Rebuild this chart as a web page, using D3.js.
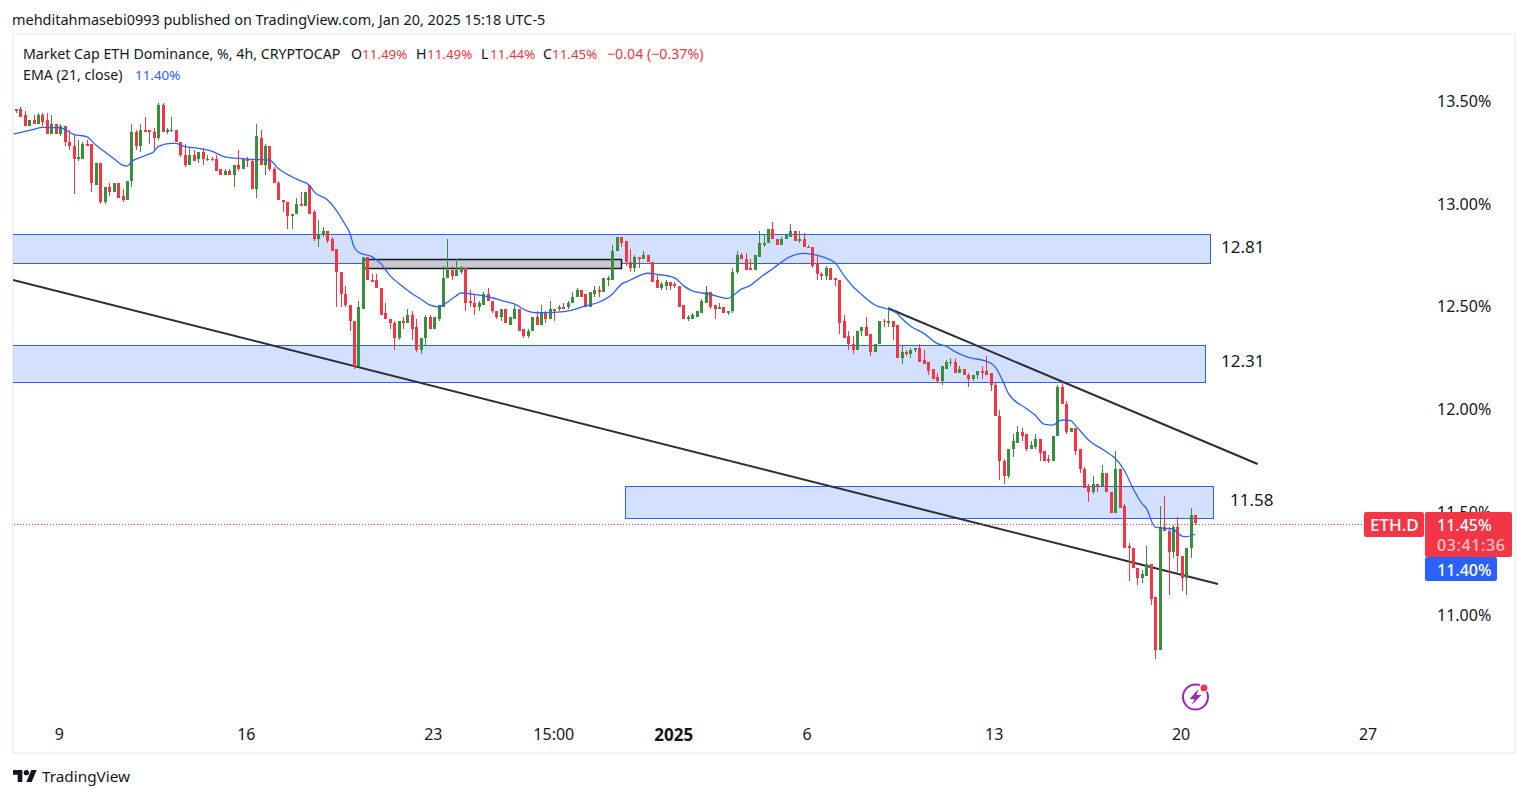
<!DOCTYPE html>
<html>
<head>
<meta charset="utf-8">
<script src="https://cdn.jsdelivr.net/npm/d3@7"></script>
<style>
  html, body { margin: 0; padding: 0; background: #fff; overflow: hidden; }
  text { font-family: "Noto Sans", sans-serif; fill: #131722; }
</style>
</head>
<body>
<script>
// 4h candles, Dec 7 2024 11:00 to Jan 20 2025 15:00 (chart clock, UTC-5)
const opens = [
  13.45,13.46,13.43,13.38,13.41,13.39,13.43,13.41,13.34,13.39,
  13.34,13.38,13.30,13.28,13.22,13.22,13.29,13.29,13.09,13.20,
  13.01,13.08,13.06,13.10,13.04,13.02,13.11,13.35,13.28,13.36,
  13.36,13.35,13.32,13.48,13.35,13.36,13.36,13.30,13.24,13.19,
  13.24,13.22,13.25,13.22,13.22,13.22,13.17,13.14,13.16,13.14,
  13.19,13.17,13.22,13.21,13.07,13.32,13.19,13.28,13.17,13.10,
  13.02,13.01,12.94,12.95,13.00,12.99,13.09,12.96,12.83,12.85,
  12.87,12.83,12.78,12.67,12.56,12.51,12.43,12.21,12.49,12.74,
  12.63,12.63,12.59,12.47,12.44,12.42,12.35,12.43,12.42,12.46,
  12.40,12.29,12.35,12.45,12.39,12.44,12.50,12.64,12.68,12.65,
  12.67,12.69,12.53,12.52,12.50,12.51,12.56,12.53,12.48,12.45,
  12.49,12.41,12.44,12.49,12.39,12.36,12.38,12.45,12.41,12.47,
  12.44,12.49,12.49,12.50,12.50,12.52,12.55,12.58,12.56,12.50,
  12.56,12.58,12.57,12.63,12.63,12.77,12.84,12.82,12.72,12.69,
  12.74,12.73,12.75,12.72,12.63,12.59,12.60,12.62,12.61,12.60,
  12.51,12.44,12.44,12.45,12.47,12.52,12.57,12.51,12.49,12.50,
  12.47,12.48,12.67,12.75,12.73,12.69,12.68,12.74,12.80,12.81,
  12.88,12.83,12.80,12.83,12.84,12.87,12.82,12.83,12.79,12.79,
  12.71,12.66,12.65,12.69,12.64,12.63,12.43,12.36,12.32,12.29,
  12.38,12.40,12.37,12.28,12.32,12.43,12.42,12.43,12.41,12.25,
  12.28,12.27,12.29,12.30,12.24,12.23,12.20,12.16,12.14,12.20,
  12.23,12.23,12.18,12.20,12.17,12.15,12.17,12.19,12.19,12.18,
  12.12,11.97,11.75,11.68,11.81,11.84,11.89,11.88,11.81,11.82,
  11.86,11.80,11.76,11.75,11.87,12.11,12.03,11.89,11.91,11.81,
  11.71,11.63,11.60,11.64,11.63,11.69,11.60,11.50,11.71,11.53,
  11.34,11.33,11.23,11.18,11.19,11.25,11.09,10.83,11.43,11.41,
  11.31,11.43,11.29,11.18,11.33,11.49
];
const highs = [
  13.46,13.47,13.45,13.41,13.43,13.44,13.44,13.44,13.43,13.39,
  13.39,13.38,13.36,13.34,13.31,13.30,13.31,13.29,13.20,13.20,
  13.08,13.10,13.10,13.10,13.07,13.11,13.39,13.36,13.39,13.42,
  13.36,13.37,13.49,13.49,13.37,13.42,13.36,13.30,13.29,13.27,
  13.26,13.25,13.27,13.24,13.23,13.24,13.17,13.17,13.17,13.19,
  13.26,13.22,13.23,13.22,13.39,13.36,13.29,13.28,13.18,13.11,
  13.02,13.01,12.95,13.03,13.06,13.06,13.09,12.97,12.92,12.89,
  12.87,12.84,12.78,12.67,12.60,12.51,12.43,12.53,12.74,12.74,
  12.66,12.66,12.59,12.52,12.44,12.43,12.43,12.45,12.49,12.48,
  12.44,12.35,12.46,12.46,12.45,12.51,12.70,12.83,12.70,12.73,
  12.70,12.69,12.58,12.56,12.53,12.57,12.59,12.53,12.48,12.49,
  12.49,12.45,12.51,12.49,12.39,12.39,12.45,12.48,12.51,12.48,
  12.53,12.49,12.51,12.52,12.53,12.57,12.59,12.58,12.56,12.57,
  12.60,12.60,12.64,12.65,12.80,12.84,12.84,12.82,12.78,12.75,
  12.74,12.77,12.75,12.72,12.66,12.62,12.63,12.62,12.62,12.60,
  12.51,12.46,12.47,12.48,12.54,12.60,12.57,12.51,12.52,12.50,
  12.48,12.69,12.77,12.76,12.76,12.73,12.75,12.87,12.85,12.88,
  12.91,12.83,12.84,12.85,12.90,12.87,12.87,12.86,12.80,12.79,
  12.75,12.67,12.70,12.69,12.64,12.63,12.46,12.38,12.36,12.38,
  12.40,12.45,12.37,12.32,12.43,12.44,12.50,12.43,12.41,12.31,
  12.29,12.30,12.30,12.32,12.29,12.23,12.20,12.18,12.21,12.24,
  12.25,12.25,12.21,12.20,12.18,12.17,12.19,12.21,12.26,12.18,
  12.13,12.00,11.76,11.81,11.88,11.92,11.91,11.88,11.85,11.88,
  11.86,11.80,11.78,11.87,12.12,12.14,12.04,11.91,11.91,11.81,
  11.72,11.64,11.68,11.64,11.73,11.69,11.60,11.80,11.71,11.54,
  11.35,11.33,11.23,11.22,11.34,11.25,11.09,11.53,11.58,11.43,
  11.44,11.48,11.29,11.33,11.52,11.49
];
const lows = [
  13.44,13.42,13.38,13.38,13.39,13.39,13.38,13.34,13.34,13.34,
  13.33,13.28,13.26,13.05,13.21,13.22,13.28,13.06,13.09,13.00,
  13.00,13.04,13.06,13.03,13.01,13.02,13.08,13.26,13.25,13.35,
  13.29,13.26,13.31,13.35,13.34,13.35,13.30,13.23,13.18,13.19,
  13.21,13.20,13.19,13.21,13.21,13.16,13.14,13.14,13.14,13.08,
  13.16,13.17,13.18,13.07,13.03,13.19,13.14,13.16,13.10,13.02,
  12.96,12.88,12.88,12.95,12.99,12.99,12.95,12.82,12.79,12.84,
  12.81,12.77,12.50,12.50,12.50,12.38,12.20,12.21,12.49,12.63,
  12.62,12.59,12.46,12.44,12.39,12.29,12.34,12.39,12.42,12.34,
  12.28,12.27,12.31,12.39,12.39,12.43,12.50,12.64,12.63,12.65,
  12.66,12.48,12.50,12.46,12.48,12.51,12.53,12.47,12.44,12.43,
  12.42,12.41,12.44,12.38,12.35,12.35,12.38,12.41,12.41,12.42,
  12.44,12.43,12.48,12.49,12.49,12.52,12.55,12.55,12.50,12.50,
  12.55,12.55,12.57,12.60,12.63,12.77,12.79,12.70,12.67,12.67,
  12.69,12.73,12.72,12.62,12.59,12.58,12.58,12.58,12.59,12.50,
  12.44,12.43,12.44,12.45,12.47,12.52,12.49,12.44,12.49,12.47,
  12.46,12.47,12.66,12.73,12.68,12.68,12.68,12.74,12.79,12.81,
  12.83,12.80,12.80,12.83,12.84,12.82,12.81,12.79,12.79,12.69,
  12.63,12.63,12.63,12.63,12.60,12.37,12.35,12.29,12.27,12.29,
  12.36,12.36,12.26,12.28,12.32,12.40,12.40,12.34,12.25,12.22,
  12.26,12.25,12.28,12.23,12.22,12.17,12.15,12.13,12.12,12.20,
  12.21,12.18,12.18,12.17,12.11,12.14,12.15,12.15,12.17,12.09,
  11.97,11.66,11.64,11.67,11.77,11.84,11.85,11.80,11.81,11.81,
  11.75,11.75,11.74,11.75,11.87,12.03,11.88,11.89,11.78,11.69,
  11.62,11.55,11.59,11.60,11.63,11.60,11.50,11.50,11.52,11.33,
  11.17,11.23,11.15,11.16,11.19,11.05,10.79,10.83,11.41,11.10,
  11.28,11.21,11.12,11.10,11.28,11.44
];
const closes = [
  13.46,13.42,13.38,13.41,13.39,13.43,13.40,13.34,13.39,13.34,
  13.38,13.30,13.28,13.22,13.23,13.29,13.28,13.10,13.20,13.01,
  13.08,13.06,13.10,13.03,13.02,13.11,13.35,13.28,13.36,13.35,
  13.35,13.32,13.48,13.35,13.36,13.36,13.30,13.24,13.19,13.24,
  13.21,13.25,13.22,13.22,13.215,13.16,13.14,13.16,13.14,13.19,
  13.17,13.22,13.21,13.07,13.33,13.19,13.28,13.17,13.10,13.02,
  13.01,12.94,12.95,13.00,12.99,13.06,12.95,12.83,12.85,12.87,
  12.82,12.77,12.67,12.56,12.51,12.43,12.21,12.50,12.74,12.63,
  12.62,12.59,12.46,12.44,12.42,12.35,12.43,12.42,12.46,12.39,
  12.29,12.35,12.45,12.39,12.45,12.51,12.64,12.68,12.65,12.68,
  12.69,12.52,12.52,12.50,12.52,12.56,12.53,12.48,12.45,12.49,
  12.42,12.45,12.49,12.38,12.36,12.38,12.45,12.41,12.47,12.44,
  12.49,12.48,12.50,12.49,12.52,12.55,12.58,12.55,12.50,12.57,
  12.58,12.57,12.64,12.64,12.77,12.84,12.81,12.72,12.69,12.74,
  12.73,12.75,12.72,12.62,12.59,12.61,12.62,12.60,12.60,12.50,
  12.44,12.45,12.46,12.48,12.53,12.57,12.50,12.49,12.50,12.47,
  12.48,12.67,12.75,12.73,12.68,12.68,12.75,12.81,12.81,12.88,
  12.83,12.80,12.83,12.85,12.87,12.82,12.83,12.79,12.785,12.70,
  12.66,12.65,12.69,12.63,12.63,12.42,12.35,12.32,12.29,12.38,
  12.40,12.36,12.28,12.32,12.43,12.425,12.43,12.40,12.25,12.28,
  12.27,12.29,12.30,12.23,12.22,12.19,12.15,12.14,12.21,12.23,
  12.23,12.18,12.20,12.17,12.15,12.17,12.19,12.18,12.17,12.12,
  11.97,11.75,11.68,11.81,11.85,11.89,11.87,11.81,11.83,11.86,
  11.79,11.75,11.75,11.87,12.11,12.03,11.89,11.91,11.80,11.71,
  11.62,11.60,11.64,11.63,11.69,11.60,11.50,11.71,11.52,11.33,
  11.33,11.23,11.18,11.20,11.25,11.08,10.83,11.43,11.41,11.31,
  11.43,11.29,11.18,11.33,11.49,11.45
];

// EMA(21) at these candle numbers
const emaIndex = [
  -0.5,4,6,10,13,16,18,20,22,24,
  25,26,29,31,32,35,36,38,41,44,
  47,50,53,57,59,62,64,66,67,70,
  72,74,75,76,77,80,82,84,87,89,
  91,93,95,96,99,100,103,107,110,112,
  115,117,121,125,128,131,134,136,138,142,
  144,148,150,152,156,160,163,165,167,170,
  174,177,179,184,186,188,190,193,196,198,
  199,201,204,207,209,211,214,218,220,222,
  223,227,229,231,233,235,237,238,241,245,
  247,249,251,253,254,256,258,260,262,263,
  265
];
const emaValue = [
  13.339,13.362,13.372,13.370,13.338,13.326,13.286,13.253,13.221,13.188,
  13.184,13.205,13.234,13.253,13.278,13.294,13.294,13.278,13.270,13.256,
  13.229,13.221,13.216,13.213,13.172,13.132,13.112,13.090,13.060,13.020,
  12.970,12.900,12.862,12.792,12.765,12.744,12.711,12.654,12.598,12.565,
  12.538,12.509,12.500,12.509,12.554,12.567,12.560,12.544,12.525,12.514,
  12.479,12.471,12.473,12.484,12.505,12.522,12.561,12.609,12.629,12.663,
  12.658,12.641,12.603,12.577,12.561,12.541,12.586,12.603,12.638,12.684,
  12.744,12.760,12.755,12.715,12.654,12.601,12.560,12.509,12.488,12.468,
  12.444,12.407,12.371,12.322,12.309,12.282,12.254,12.236,12.209,12.128,
  12.079,12.006,11.974,11.930,11.925,11.950,11.947,11.925,11.853,11.796,
  11.764,11.707,11.618,11.545,11.521,11.429,11.424,11.419,11.386,11.383,
  11.396
];

// drawings on the chart, in candle numbers and percent
const zoneStart = [-10, -10, 136.9];
const zoneEnd = [268.3, 267.2, 269];
const zoneTop = [12.855, 12.312, 11.63];
const zoneBottom = [12.715, 12.13, 11.475];
const zoneLabels = ["12.81", "12.31", "11.58"];
const trendStart = [-0.6, 196];
const trendStartValue = [12.63, 12.493];
const trendEnd = [270.1, 279];
const trendEndValue = [11.153, 11.736];

const priceTicks = [13.5, 13, 12.5, 12, 11.5, 11];
const timeTickDates = [
  "2024-12-09T00:00", "2024-12-16T00:00", "2024-12-23T00:00", "2024-12-27T15:00", "2025-01-01T00:00",
  "2025-01-06T00:00", "2025-01-13T00:00", "2025-01-20T00:00", "2025-01-27T00:00"
];
const timeTickLabels = ["9", "16", "23", "15:00", "2025", "6", "13", "20", "27"];

const UP = "#388e3c", DOWN = "#f23645", BLUE = "#2962ff", LINE = "#2a2e39";
const FIRST = Date.UTC(2024, 11, 7, 11), STEP = 4 * 3600 * 1000;
const timeAt = i => new Date(FIRST + i * STEP);
const utc = s => new Date(s + ":00Z");

const svg = d3.select("body").append("svg").attr("width", 1529).attr("height", 798);

const x = d3.scaleUtc().domain([timeAt(0), timeAt(265)]).range([15.7, 1195.3]);
const y = d3.scaleLinear().domain([13.5, 11]).range([101, 615.5]);
const xi = i => x(timeAt(i));

// frame around the pane
svg.append("rect").attr("x", 13).attr("y", 34).attr("width", 1502).attr("height", 719)
  .attr("fill", "none").attr("stroke", "#f0f3fa").attr("stroke-width", 2);

svg.append("clipPath").attr("id", "pane").append("rect")
  .attr("x", 13).attr("y", 35).attr("width", 1501).attr("height", 680);

// price axis
const yAxis = svg.append("g").attr("transform", "translate(1437,0)")
  .call(d3.axisRight(y).tickValues(priceTicks).tickFormat(d => d.toFixed(2) + "%").tickSize(0).tickPadding(0));
yAxis.select(".domain").remove();
yAxis.selectAll("text").attr("font-size", 16).style("font-family", null);

// time axis, labels sit a little right of the day boundary
const xAxis = svg.append("g").attr("transform", "translate(0,729)")
  .call(d3.axisBottom(x).tickValues(timeTickDates.map(utc))
    .tickFormat((d, i) => timeTickLabels[i]).tickSize(0).tickPadding(0));
xAxis.select(".domain").remove();
xAxis.selectAll("text").style("font-family", null)
  .attr("dx", (d, i) => timeTickLabels[i] === "15:00" ? -1 : 2)
  .attr("font-size", (d, i) => timeTickLabels[i] === "2025" ? 17 : 16)
  .attr("font-weight", (d, i) => timeTickLabels[i] === "2025" ? 700 : 400);

const plot = svg.append("g").attr("clip-path", "url(#pane)");

// blue zones
plot.selectAll("rect.zone").data(zoneTop).join("rect").attr("class", "zone")
  .attr("x", (d, i) => Math.round(xi(zoneStart[i])) + 0.5)
  .attr("y", d => Math.round(y(d)) + 0.5)
  .attr("width", (d, i) => Math.round(xi(zoneEnd[i]) - xi(zoneStart[i])))
  .attr("height", (d, i) => Math.round(y(zoneBottom[i]) - y(d)))
  .attr("fill", BLUE).attr("fill-opacity", 0.2)
  .attr("stroke", BLUE).attr("stroke-width", 1);

// small grey box over the first zone
plot.append("rect")
  .attr("x", Math.round(xi(78)) + 0.5).attr("y", Math.round(y(12.733)) + 0.5)
  .attr("width", Math.round(xi(136) - xi(78))).attr("height", Math.round(y(12.69) - y(12.733)))
  .attr("fill", "#c8cad0").attr("stroke", "#131722").attr("stroke-width", 1.5);

// trend lines
plot.selectAll("line.trend").data(trendStart).join("line").attr("class", "trend")
  .attr("x1", d => xi(d))
  .attr("y1", (d, i) => y(trendStartValue[i]))
  .attr("x2", (d, i) => xi(trendEnd[i]))
  .attr("y2", (d, i) => y(trendEndValue[i]))
  .attr("stroke", LINE).attr("stroke-width", 2);

// last price line
svg.append("line")
  .attr("x1", 14).attr("x2", 1364)
  .attr("y1", Math.round(y(11.45)) + 1.5).attr("y2", Math.round(y(11.45)) + 1.5)
  .attr("stroke", DOWN).attr("stroke-dasharray", "1 2");

// candles
const candleColor = i => closes[i] >= opens[i] ? UP : DOWN;
const cx = i => Math.round(xi(i));

plot.selectAll("rect.wick").data(opens).join("rect").attr("class", "wick")
  .attr("x", (d, i) => cx(i))
  .attr("y", (d, i) => Math.round(y(highs[i])))
  .attr("width", 1)
  .attr("height", (d, i) => Math.max(1, Math.round(y(lows[i])) - Math.round(y(highs[i]))))
  .attr("fill", (d, i) => candleColor(i));

plot.selectAll("rect.body").data(opens).join("rect").attr("class", "body")
  .attr("x", (d, i) => cx(i) - 1)
  .attr("y", (d, i) => Math.round(y(Math.max(d, closes[i]))))
  .attr("width", 3)
  .attr("height", (d, i) => Math.max(1, Math.round(y(Math.min(d, closes[i]))) - Math.round(y(Math.max(d, closes[i])))))
  .attr("fill", (d, i) => candleColor(i));

// EMA
const emaLine = d3.line().x(d => xi(d)).y((d, i) => y(emaValue[i])).curve(d3.curveMonotoneX);
plot.append("path").attr("d", emaLine(emaIndex))
  .attr("fill", "none").attr("stroke", BLUE).attr("stroke-width", 1.3);

// zone labels
const labelX = [1221, 1221, 1230], labelY = [253, 367, 506];
svg.selectAll("text.zl").data(zoneLabels).join("text").attr("class", "zl")
  .attr("x", (d, i) => labelX[i]).attr("y", (d, i) => labelY[i])
  .attr("font-size", 17).text(d => d);

// price labels on the right
const tag = (xp, yp, w, h, color) => svg.append("rect")
  .attr("x", xp).attr("y", yp).attr("width", w).attr("height", h).attr("rx", 2).attr("fill", color);
tag(1364, 512, 60, 25, DOWN);
tag(1425, 557, 72, 24, BLUE);
tag(1425, 512, 87, 45, DOWN);
const tagText = (xp, yp, s, opacity, size) => svg.append("text").attr("x", xp).attr("y", yp)
  .attr("font-size", size || 16).attr("font-weight", 500).style("fill", "#fff").style("fill-opacity", opacity).text(s);
tagText(1370, 530.5, "ETH.D", 1, 17);
tagText(1437, 530.5, "11.45%", 1);
tagText(1437, 550.5, "03:41:36", 0.7).attr("textLength", 68);
tagText(1437, 575.5, "11.40%", 1);

// header and legend
const label = (xp, yp, s, color, size) => svg.append("text").attr("x", xp).attr("y", yp)
  .attr("font-size", size || 14.2).style("fill", color || "#131722").text(s);
label(12, 25, "mehditahmasebi0993 published on TradingView.com, Jan 20, 2025 15:18 UTC-5", null, 14.45);
label(23, 59, "Market Cap ETH Dominance, %, 4h, CRYPTOCAP");
label(351, 59, "O"); label(362, 59, "11.49%", DOWN, 13.4);
label(416, 59, "H"); label(427, 59, "11.49%", DOWN, 13.4);
label(481, 59, "L"); label(490, 59, "11.44%", DOWN, 13.4);
label(543, 59, "C"); label(552, 59, "11.45%", DOWN, 13.4);
label(607, 59, "\u22120.04 (\u22120.37%)", DOWN);
label(23, 80, "EMA (21, close)");
label(135, 80, "11.40%", BLUE, 13.4);

// TradingView logo
svg.append("g").attr("transform", "translate(13,767.3) scale(0.667)").call(g => {
  g.append("path").attr("d", "M14 22H7V11H0V4h14v18zM28 22h-8l7.5-18h8L28 22z").attr("fill", "#131722");
  g.append("circle").attr("cx", 20).attr("cy", 8).attr("r", 4).attr("fill", "#131722");
});
label(42, 782, "TradingView", "#131722", 15.3);

// purple lightning mark
const zap = svg.append("g").attr("transform", "translate(1195.5,697)");
zap.append("circle").attr("r", 12.5).attr("fill", "none").attr("stroke", "#9c27b0").attr("stroke-width", 2);
zap.append("path").attr("d", "M3,-8 L-6,2 L-1,2 L-4,8 L6,-2 L1,-2 Z").attr("fill", "#9c27b0");
zap.append("circle").attr("cx", 8.5).attr("cy", -9).attr("r", 5).attr("fill", "#fff");
zap.append("circle").attr("cx", 8.5).attr("cy", -9).attr("r", 3.5).attr("fill", DOWN);
</script>
</body>
</html>
